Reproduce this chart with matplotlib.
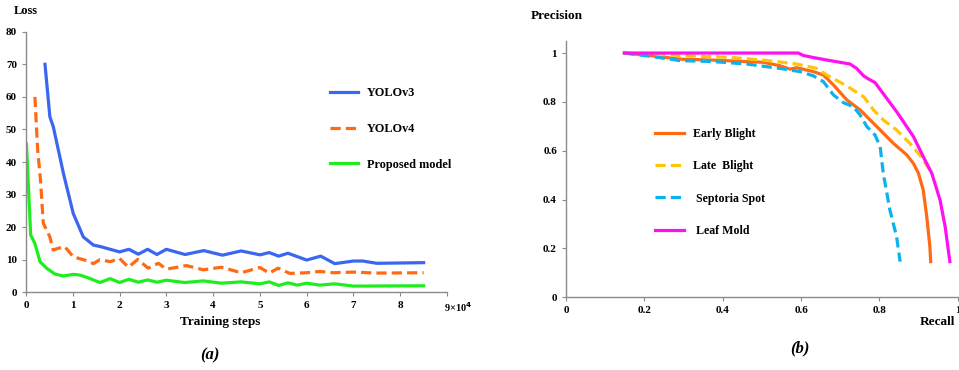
import matplotlib
matplotlib.use("Agg")
import matplotlib.pyplot as plt
import matplotlib.transforms as mtrans

plt.rcParams['font.family'] = ['Liberation Serif', 'DejaVu Serif']
plt.rcParams['font.weight'] = 'bold'

# ---------------- data (a) : loss vs training steps (x in units of 1e4) ----------------
v3_x = [0.406, 0.51, 0.584, 0.8, 1.01, 1.225, 1.44, 1.6, 1.8, 2.0, 2.2, 2.4, 2.6, 2.8, 3.0,
        3.4, 3.8, 4.2, 4.6, 5.0, 5.2, 5.4, 5.6, 6.0, 6.3, 6.6, 7.0, 7.2, 7.5, 8.5]
v3_y = [70, 53.9, 50.8, 36.5, 24.2, 17, 14.5, 14, 13.2, 12.4, 13.2, 11.7, 13.2, 11.6, 13.2,
        11.6, 12.8, 11.4, 12.7, 11.5, 12.2, 11.1, 12.0, 9.9, 11.1, 8.8, 9.6, 9.6, 8.9, 9.1]

v4_x = [0.19, 0.25, 0.31, 0.37, 0.44, 0.51, 0.58, 0.69, 0.83, 1.01, 1.3, 1.44, 1.58, 1.8, 2.0,
        2.19, 2.39, 2.61, 2.83, 3.0, 3.43, 3.79, 4.18, 4.6, 5.0, 5.2, 5.39, 5.64, 6.0, 6.28,
        6.57, 7.0, 7.49, 8.5]
v4_y = [60, 43.6, 34.5, 21.2, 19.1, 17, 13, 13.5, 14, 10.9, 9.7, 8.8, 10, 9.4, 10.4,
        7.7, 10.1, 7.4, 8.9, 7.1, 8.2, 6.9, 7.7, 6.0, 7.6, 5.9, 7.4, 5.8, 6.0, 6.4,
        6.0, 6.2, 5.9, 6.0]

pm_x = [0.01, 0.1, 0.19, 0.3, 0.44, 0.62, 0.8, 1.01, 1.15, 1.3, 1.58, 1.8, 2.0, 2.2, 2.4,
        2.6, 2.8, 3.0, 3.4, 3.79, 4.18, 4.6, 5.0, 5.2, 5.4, 5.6, 5.8, 6.0, 6.28, 6.6, 7.0, 8.5]
pm_y = [45.5, 17.6, 15, 9.4, 7.4, 5.6, 5.0, 5.5, 5.3, 4.6, 3.0, 4.2, 3.0, 4.0, 3.1,
        3.8, 3.1, 3.7, 3.0, 3.5, 2.8, 3.2, 2.6, 3.2, 2.1, 2.9, 2.2, 2.8, 2.2, 2.6, 1.9, 2.0]

loss_xticks = [0, 1, 2, 3, 4, 5, 6, 7, 8, 9]
loss_xticklabels = ['0', '1', '2', '3', '4', '5', '6', '7', '8', '9×10$^4$']
loss_yticks = [0, 10, 20, 30, 40, 50, 60, 70, 80]

# ---------------- data (b) : precision-recall ----------------
eb_r = [0.149, 0.223, 0.291, 0.376, 0.504, 0.546, 0.572, 0.589, 0.631, 0.657, 0.683, 0.717,
        0.751, 0.802, 0.836, 0.87, 0.887, 0.9, 0.912, 0.921, 0.929, 0.931]
eb_p = [1.0, 0.988, 0.975, 0.971, 0.962, 0.948, 0.934, 0.94, 0.924, 0.91, 0.869, 0.808,
        0.767, 0.685, 0.63, 0.583, 0.548, 0.507, 0.439, 0.33, 0.207, 0.146]

lb_r = [0.149, 0.291, 0.419, 0.504, 0.589, 0.64, 0.666, 0.717, 0.76, 0.785, 0.81, 0.844,
        0.878, 0.903, 0.929]
lb_p = [1.0, 0.99, 0.982, 0.971, 0.955, 0.937, 0.91, 0.865, 0.821, 0.767, 0.726, 0.685,
        0.63, 0.583, 0.521]

ss_r = [0.149, 0.223, 0.291, 0.376, 0.461, 0.546, 0.597, 0.631, 0.657, 0.683, 0.708, 0.734,
        0.751, 0.768, 0.789, 0.802, 0.81, 0.827, 0.844, 0.853]
ss_p = [1.0, 0.985, 0.969, 0.965, 0.955, 0.937, 0.924, 0.907, 0.883, 0.828, 0.797, 0.78,
        0.746, 0.699, 0.664, 0.617, 0.507, 0.357, 0.248, 0.146]

lm_r = [0.149, 0.593, 0.606, 0.63, 0.674, 0.725, 0.742, 0.76, 0.772, 0.789, 0.80, 0.844,
        0.887, 0.912, 0.934, 0.955, 0.968, 0.98]
lm_p = [1.0, 1.0, 0.99, 0.982, 0.969, 0.955, 0.937, 0.906, 0.894, 0.879, 0.855, 0.76,
        0.658, 0.576, 0.507, 0.398, 0.289, 0.146]

pr_xticks = [0, 0.2, 0.4, 0.6, 0.8, 1]
pr_xticklabels = ['0', '0.2', '0.4', '0.6', '0.8', '1']
pr_yticks = [0, 0.2, 0.4, 0.6, 0.8, 1]
pr_yticklabels = ['0', '0.2', '0.4', '0.6', '0.8', '1']

W, H = 959, 370
fig = plt.figure(figsize=(W / 100, H / 100), dpi=100)


def px_axes(l, r, t, b):
    return fig.add_axes([l / W, 1 - b / H, (r - l) / W, (b - t) / H])


def style(ax):
    for s in ['top', 'right']:
        ax.spines[s].set_visible(False)
    for s in ['left', 'bottom']:
        ax.spines[s].set_color('#8a8a8a')
        ax.spines[s].set_linewidth(1.0)
    ax.tick_params(colors='#8a8a8a', labelcolor='black', length=3, width=0.8,
                   labelsize=8)
    for lab in ax.get_xticklabels() + ax.get_yticklabels():
        lab.set_fontweight('bold')


# ---------------- (a) ----------------
ax1 = px_axes(26, 447, 31.7, 292.3)
lw = 2.3
ax1.plot(v3_x, v3_y, color='#3A66F0', lw=lw, solid_joinstyle='round', label='YOLOv3')
ax1.plot(v4_x, v4_y, color='#FF6A13', lw=lw, ls=(0, (3.2, 1.6)), label='YOLOv4')
ax1.plot(pm_x, pm_y, color='#1EEE1E', lw=lw, solid_joinstyle='round', label='Proposed model')
ax1.set_xlim(0, 9)
ax1.set_ylim(0, 80)
ax1.set_xticks(loss_xticks)
ax1.set_xticklabels(loss_xticklabels)
ax1.set_yticks(loss_yticks)
style(ax1)
ax1.tick_params(axis='x', pad=3)
last = ax1.get_xticklabels()[-1]
last.set_horizontalalignment('left')
last.set_fontsize(7.5)
last.set_transform(last.get_transform() + mtrans.ScaledTranslation(-3 / 100, 0, fig.dpi_scale_trans))
leg1 = ax1.legend(loc='upper left', bbox_to_anchor=(330 / W, 1 - 87.5 / H),
                  bbox_transform=fig.transFigure, frameon=False, fontsize=8.8,
                  handlelength=2.3, handletextpad=0.75, labelspacing=1.93,
                  borderpad=0, borderaxespad=0)
for t in leg1.get_texts():
    t.set_fontweight('bold')
fig.text(26 / W, 1 - 11 / H, 'Loss', ha='center', va='center', fontsize=9, fontweight='bold')
fig.text(220 / W, 1 - 322 / H, 'Training steps', ha='center', va='center', fontsize=9.5,
         fontweight='bold')
fig.text(210 / W, 1 - 355 / H, '(a)', ha='center', va='center', fontsize=12,
         fontweight='bold', style='italic')

# ---------------- (b) ----------------
ax2 = px_axes(566, 957.7, 41.3, 297.3)
ax2.plot(eb_r, eb_p, color='#FF6A13', lw=lw, label='Early Blight')
ax2.plot(lb_r, lb_p, color='#FFC50A', lw=lw, ls=(0, (3.2, 1.6)), label='Late  Blight')
ax2.plot(ss_r, ss_p, color='#0AB2EE', lw=lw, ls=(0, (3.2, 1.6)), label=' Septoria Spot')
ax2.plot(lm_r, lm_p, color='#FF10F0', lw=lw, label=' Leaf Mold')
ax2.set_xlim(0, 1)
ax2.set_ylim(0, 1.048)
ax2.set_xticks(pr_xticks)
ax2.set_xticklabels(pr_xticklabels)
ax2.set_yticks(pr_yticks)
ax2.set_yticklabels(pr_yticklabels)
style(ax2)
leg2 = ax2.legend(loc='upper left', bbox_to_anchor=(655 / W, 1 - 128 / H),
                  bbox_transform=fig.transFigure, frameon=False, fontsize=8.6,
                  handlelength=2.4, handletextpad=0.75, labelspacing=1.70,
                  borderpad=0, borderaxespad=0)
for t in leg2.get_texts():
    t.set_fontweight('bold')
fig.text(531 / W, 1 - 16 / H, 'Precision', ha='left', va='center', fontsize=9.5,
         fontweight='bold')
fig.text(955 / W, 1 - 322 / H, 'Recall', ha='right', va='center', fontsize=9.5,
         fontweight='bold')
fig.text(800 / W, 1 - 348 / H, '(b)', ha='center', va='center', fontsize=12,
         fontweight='bold', style='italic')

fig.savefig('out.png', dpi=100)
